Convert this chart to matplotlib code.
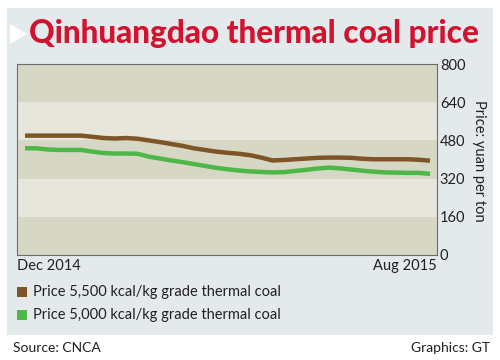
import matplotlib.pyplot as plt
from matplotlib.patches import Rectangle, Polygon

# weekly prices, Dec 2014 -> Aug 2015 (yuan per ton)
weeks = list(range(37))
price_5500 = [500, 500, 500, 500, 500, 500, 495, 490, 488, 490, 487, 480, 473,
              465, 457, 447, 440, 433, 428, 424, 418, 408, 396, 398, 401, 404,
              407, 408, 408, 407, 403, 401, 401, 401, 401, 399, 395]
price_5000 = [447, 447, 442, 440, 440, 440, 433, 427, 425, 425, 424, 412, 404,
              396, 389, 381, 373, 365, 359, 354, 350, 348, 346, 347, 352, 357,
              362, 366, 363, 358, 353, 349, 346, 345, 344, 344, 340]
y_ticks = [0, 160, 320, 480, 640, 800]
x_labels = ['Dec 2014', 'Aug 2015']
series_names = ['Price 5,500 kcal/kg grade thermal coal',
                'Price 5,000 kcal/kg grade thermal coal']

brown = '#7d5526'
green = '#4db847'
dark_band = '#d6d7c5'
light_band = '#e6e6dc'
panel = '#e4eaec'
red = '#d3122f'
txt = '#231f20'

plt.rcParams['font.family'] = ['Lato', 'DejaVu Sans']

W, H = 500, 360
fig = plt.figure(figsize=(5, 3.6), dpi=100)
fig.patch.set_facecolor('white')

# light panel behind everything
fig.patches.append(Rectangle((7 / W, 1 - 335 / H), 486 / W, 327 / H,
                             transform=fig.transFigure, facecolor=panel,
                             edgecolor='none', zorder=-10))
# white arrow next to title
fig.patches.append(Polygon([(10 / W, 1 - 24 / H), (10 / W, 1 - 44 / H), (27 / W, 1 - 34 / H)],
                           closed=True, transform=fig.transFigure,
                           facecolor='white', edgecolor='none', zorder=-5))

fig.text(29 / W, 1 - 34 / H, 'Qinhuangdao thermal coal price', color=red,
         fontsize=22.7, fontweight='black', va='center', ha='left')

ax = fig.add_axes([17 / W, 1 - 255 / H, 420 / W, 191 / H])
for i in range(len(y_ticks) - 1):
    ax.axhspan(y_ticks[i], y_ticks[i + 1],
               color=dark_band if i % 2 == 0 else light_band, lw=0, zorder=0)

ax.plot(weeks, price_5500, color=brown, lw=3.2, solid_capstyle='butt', zorder=3)
ax.plot(weeks, price_5000, color=green, lw=3.2, solid_capstyle='butt', zorder=3)

ax.set_xlim(-0.71, 36.62)
ax.set_ylim(0, 800)
ax.yaxis.tick_right()
ax.set_yticks(y_ticks)
ax.set_yticklabels([str(v) for v in y_ticks], fontsize=10.5, color=txt)
ax.tick_params(axis='y', length=0, pad=2)
ax.set_xticks([weeks[0] - 0.71, weeks[-1] + 0.62])
ax.set_xticklabels(x_labels, fontsize=10.5, color=txt)
ax.get_xticklabels()[0].set_ha('left')
ax.get_xticklabels()[1].set_ha('right')
ax.tick_params(axis='x', length=0, pad=3)
for s in ax.spines.values():
    s.set_color('#6d6d6d')
    s.set_linewidth(0.8)

fig.text(479 / W, 1 - 161 / H, 'Price: yuan per ton', rotation=270, fontsize=10.5,
         color=txt, ha='center', va='center')

# legend
for i, (name, c) in enumerate(zip(series_names, [brown, green])):
    yy = 292 + i * 23
    fig.patches.append(Rectangle((17 / W, 1 - (yy + 5) / H), 10 / W, 10 / H,
                                 transform=fig.transFigure, facecolor=c,
                                 edgecolor='none', zorder=2))
    fig.text(33 / W, 1 - yy / H, name, fontsize=10.5, color=txt, va='center', ha='left')

fig.text(13 / W, 1 - 348 / H, 'Source: CNCA', fontsize=10, color=txt, va='center')
fig.text(490 / W, 1 - 348 / H, 'Graphics: GT', fontsize=10, color=txt, va='center', ha='right')

fig.savefig('out.png', dpi=100)
